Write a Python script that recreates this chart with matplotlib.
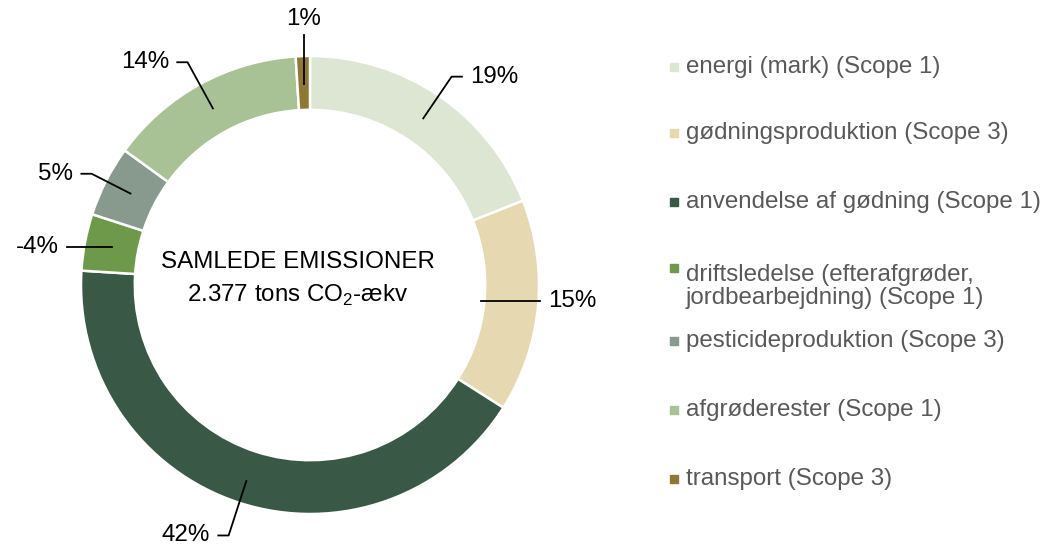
import numpy as np
import matplotlib
matplotlib.use("Agg")
import matplotlib.pyplot as plt

plt.rcParams['font.family'] = ['Liberation Sans', 'DejaVu Sans']
plt.rcParams['mathtext.fontset'] = 'custom'
plt.rcParams['mathtext.rm'] = 'Liberation Sans'

# Data
categories = [
    "energi (mark) (Scope 1)",
    "gødningsproduktion (Scope 3)",
    "anvendelse af gødning (Scope 1)",
    "driftsledelse (efterafgrøder,\njordbearbejdning) (Scope 1)",
    "pesticideproduktion (Scope 3)",
    "afgrøderester (Scope 1)",
    "transport (Scope 3)",
]
shares = [19, 15, 42, -4, 5, 14, 1]
colors = ["#DDE6D3", "#E6D9B2", "#3A5846", "#6E994A", "#889A8D", "#A9C295", "#8F7833"]
center_title = "SAMLEDE EMISSIONER"
center_value = "2.377 tons CO$_{\\mathrm{2}}$-ækv"

W, H = 1050, 548
cx, cy, R = 310, 285, 229  # pie center / radius in pixels
FS = 17.4

fig = plt.figure(figsize=(W / 100, H / 100), dpi=100)
ax = fig.add_axes([0, 0, 1, 1])

wedges, _ = ax.pie(np.abs(shares), colors=colors, startangle=90, counterclock=False,
                   radius=1, wedgeprops=dict(width=0.235, edgecolor="white", linewidth=1.8))
ax.set_xlim(-cx / R, (W - cx) / R)
ax.set_ylim(-(H - cy) / R, cy / R)
ax.set_aspect("auto")
ax.axis("off")

# leader lines: start radius, elbow radius per slice
start_r = [0.88, 0.75, 0.90, 0.88, 0.88, 0.88, 0.88]
elbow_r = [1.10, 1.01, 1.15, 1.08, 1.07, 1.11, 1.09]
tail = 0.045
gap = 0.035
for w, v, r0, r1 in zip(wedges, shares, start_r, elbow_r):
    a = np.deg2rad((w.theta1 + w.theta2) / 2)
    x0, y0 = r0 * np.cos(a), r0 * np.sin(a)
    lbl = f"{v}%"
    if abs(np.cos(a)) < 0.1:
        # near the top: vertical line, label above
        x1, y1 = x0, r1
        ax.plot([x0, x1], [y0, y1], color="black", lw=1.3)
        ax.text(x1, y1 + 0.025, lbl, ha="center", va="bottom", fontsize=FS)
        continue
    side = np.sign(np.cos(a))
    if abs(np.sin(a)) < 0.2:
        x1, y1 = r1 * np.cos(a), y0
        xs, ys = [x0, x1], [y0, y1]
        x2 = x1
    else:
        x1, y1 = r1 * np.cos(a), r1 * np.sin(a)
        x2 = x1 + side * tail
        xs, ys = [x0, x1, x2], [y0, y1, y1]
    ax.plot(xs, ys, color="black", lw=1.3)
    ax.text(x2 + side * gap, y1, lbl, ha="left" if side > 0 else "right",
            va="center", fontsize=FS)

# center text
ax.text(-12 / R, 23 / R, center_title, ha="center", va="center", fontsize=FS)
ax.text(-12 / R, -10 / R, center_value, ha="center", va="center", fontsize=FS)

# legend
legend_y = [67, 133, 202, 268, 341, 410, 479]
line_pitch = 30
for lab, col, py in zip(categories, colors, legend_y):
    fig.patches.append(plt.Rectangle((670 / W, 1 - (py + 4) / H), 8 / W, 8 / H,
                                     transform=fig.transFigure, color=col, figure=fig))
    nlines = lab.count("\n") + 1
    base = py + 6 + (nlines - 1) * line_pitch
    fig.text(686 / W, 1 - base / H, lab, ha="left", va="baseline",
             fontsize=FS, color="#595959", linespacing=1.08)

fig.savefig("out.png", dpi=100)
